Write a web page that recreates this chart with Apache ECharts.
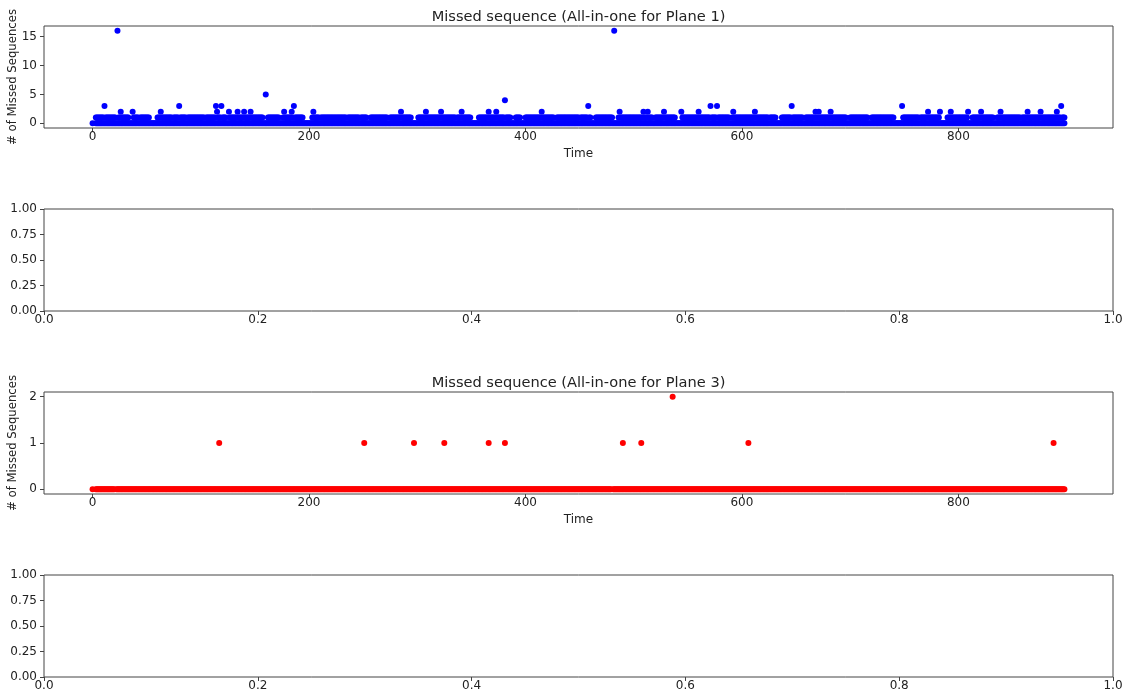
<!DOCTYPE html>
<html>
<head>
<meta charset="utf-8">
<script src="https://cdn.jsdelivr.net/npm/echarts@6/dist/echarts.min.js"></script>
<style>
html,body{margin:0;padding:0;background:#fff;}
#chart{width:1127px;height:696px;}
</style>
</head>
<body>
<div id="chart"></div>
<script>
// ---- DATA ----
// One character per time step (t = row*50 + column, spaces ignored).
// '.' = no sample, '0' = zero reading only, other char = zero reading plus a reading of that value (base 36, 'g' = 16).
const plane1Rows = [
  "0..1111111 1311111111 110g112111 1111000211 1110111111",
  "1110000000 1112111111 1111011111 3111111011 1111111111",
  "1111011111 1111321113 1111002111 1111211111 2111112111",
  "1111111100 5011111111 1110001211 1111213111 1111100000",
  "0001211111 0111111111 1111111111 1111101111 1111111011",
  "1111000111 1111111111 1110011111 1111121111 1111100000",
  "0111111121 1111111111 1121111111 1111110111 1211111111",
  "0000000111 1111112111 1112111111 1411111000 0111110000",
  "1111111111 1111121111 1111111001 1111111111 1111111111",
  "0111111131 1000011111 1111111111 10g0001211 1111111111",
  "1111111112 1112111100 1111111121 1111111110 0000211111",
  "1111111111 2111111111 1311111311 1111111110 0121111111",
  "1111111111 1121111111 1111101111 1100000111 1111113111",
  "1111111001 1111111121 1211111111 1121111111 1111111000",
  "1111111111 1111111000 1111111111 1111111111 1000000031",
  "1111111111 1111011111 1121111111 1112000000 1112111111",
  "1111111112 0001111111 1211111111 1110001112 1111111111",
  "1111111101 1111211111 1111112111 1111111111 121113111."
];
const plane3Rows = [
  "0..0000000 0000000000 0.00000000 0000000000 0000000000",
  "0000000000 0000000000 0000000000 0000000000 0000000000",
  "0000000000 0000000100 0000000000 0000000000 0000000000",
  "0000000000 0000000000 0000000000 0000000000 0000000000",
  "0000000000 0000000000 0000000000 0000000000 0000000000",
  "0100000000 0000000000 0000000000 0000000000 0000000100",
  "0000000000 0000000000 0000010000 0000000000 0000000000",
  "0000000000 0000001000 0000000000 0100000000 0000000000",
  "0000000000 0000000000 0000000000 0000000000 0000000000",
  "0000000000 0000000000 0000000000 .000000000 1000000000",
  "0000000100 0000000000 0000000000 0000002000 0000000000",
  "0000000000 0000000000 0000000000 0000000000 0000000000",
  "0000001000 0000000000 0000000000 0000000000 0000000000",
  "0000000000 0000000000 0000000000 0000000000 0000000000",
  "0000000000 0000000000 0000000000 0000000000 0000000000",
  "0000000000 0000000000 0000000000 0000000000 0000000000",
  "0000000000 0000000000 0000000000 0000000000 0000000000",
  "0000000000 0000000000 0000000000 0000000010 000000000."
];
const timeTicks = [0, 200, 400, 600, 800];
const plane1YTicks = [0, 5, 10, 15];
const plane3YTicks = [0, 1, 2];
const titles = ["Missed sequence (All-in-one for Plane 1)", "Missed sequence (All-in-one for Plane 3)"];
const xLabel = "Time";
const yLabel = "# of Missed Sequences";

function decode(rows) {
  const out = [];
  rows.forEach((row, r) => {
    const s = row.replace(/ /g, '');
    for (let c = 0; c < s.length; c++) {
      const ch = s[c];
      if (ch === '.') continue;
      const t = r * 50 + c;
      const v = parseInt(ch, 36);
      out.push([t, 0]);
      if (v > 0) out.push([t, v]);
    }
  });
  return out;
}
const plane1Data = decode(plane1Rows);
const plane3Data = decode(plane3Rows);

// ---- CHART ----
const FONT = 'DejaVu Sans';
const AX = '#444';
const TXT = '#222';
const L = 44, W = 1069, H = 102;
const tops = [26, 209, 392, 575];

const grids = tops.map(t => ({
  left: L, top: t, width: W, height: H, containLabel: false, outerBoundsMode: 'none',
  show: true, borderColor: AX, borderWidth: 1, backgroundColor: 'transparent'
}));

const tickStyle = {show: true, length: 4, inside: false, lineStyle: {color: AX}};

function timeAxis(gi) {
  return {
    type: 'value', gridIndex: gi, min: -44.9, max: 942.9, position: 'bottom',
    splitLine: {show: false}, axisLine: {show: false, onZero: false},
    axisTick: Object.assign({customValues: timeTicks}, tickStyle),
    axisLabel: {color: TXT, fontFamily: FONT, fontSize: 12, margin: 3, customValues: timeTicks},
    name: xLabel, nameLocation: 'middle', nameGap: 20, nameMoveOverlap: false,
    nameTextStyle: {color: TXT, fontFamily: FONT, fontSize: 12}
  };
}
function unitX(gi) {
  return {
    type: 'value', gridIndex: gi, min: 0, max: 1, interval: 0.2, position: 'bottom',
    splitLine: {show: false}, axisLine: {show: false, onZero: false},
    axisTick: tickStyle,
    axisLabel: {color: TXT, fontFamily: FONT, fontSize: 12, margin: 3, formatter: v => v.toFixed(1), showMinLabel: true, showMaxLabel: true}
  };
}
function unitY(gi) {
  return {
    type: 'value', gridIndex: gi, min: 0, max: 1, interval: 0.25, position: 'left',
    splitLine: {show: false}, axisLine: {show: false, onZero: false},
    axisTick: tickStyle,
    axisLabel: {color: TXT, fontFamily: FONT, fontSize: 12, margin: 7, formatter: v => v.toFixed(2), showMinLabel: true, showMaxLabel: true}
  };
}
function countY(gi, min, max, ticks) {
  return {
    type: 'value', gridIndex: gi, min: min, max: max, position: 'left',
    splitLine: {show: false}, axisLine: {show: false, onZero: false},
    axisTick: Object.assign({customValues: ticks}, tickStyle),
    axisLabel: {color: TXT, fontFamily: FONT, fontSize: 12, margin: 7, customValues: ticks},
    name: yLabel, nameLocation: 'middle', nameGap: 25, nameRotate: 90, nameMoveOverlap: false,
    nameTextStyle: {color: TXT, fontFamily: FONT, fontSize: 11.7}
  };
}

const chart = echarts.init(document.getElementById('chart'), null, {renderer: 'canvas'});
chart.setOption({
  animation: false,
  backgroundColor: '#fff',
  title: [
    {text: titles[0], left: L + W / 2, top: 10, textAlign: 'center', padding: 0,
     textStyle: {fontFamily: FONT, fontSize: 14.6, fontWeight: 'normal', color: TXT}},
    {text: titles[1], left: L + W / 2, top: 376, textAlign: 'center', padding: 0,
     textStyle: {fontFamily: FONT, fontSize: 14.6, fontWeight: 'normal', color: TXT}}
  ],
  grid: grids,
  xAxis: [timeAxis(0), unitX(1), timeAxis(2), unitX(3)],
  yAxis: [countY(0, -0.8, 16.8, plane1YTicks), unitY(1), countY(2, -0.1, 2.1, plane3YTicks), unitY(3)],
  series: [
    {type: 'scatter', xAxisIndex: 0, yAxisIndex: 0, data: plane1Data, symbolSize: 6,
     itemStyle: {color: '#0000ff', opacity: 1}, silent: true},
    {type: 'scatter', xAxisIndex: 2, yAxisIndex: 2, data: plane3Data, symbolSize: 6,
     itemStyle: {color: '#ff0000', opacity: 1}, silent: true}
  ]
});
</script>
</body>
</html>
